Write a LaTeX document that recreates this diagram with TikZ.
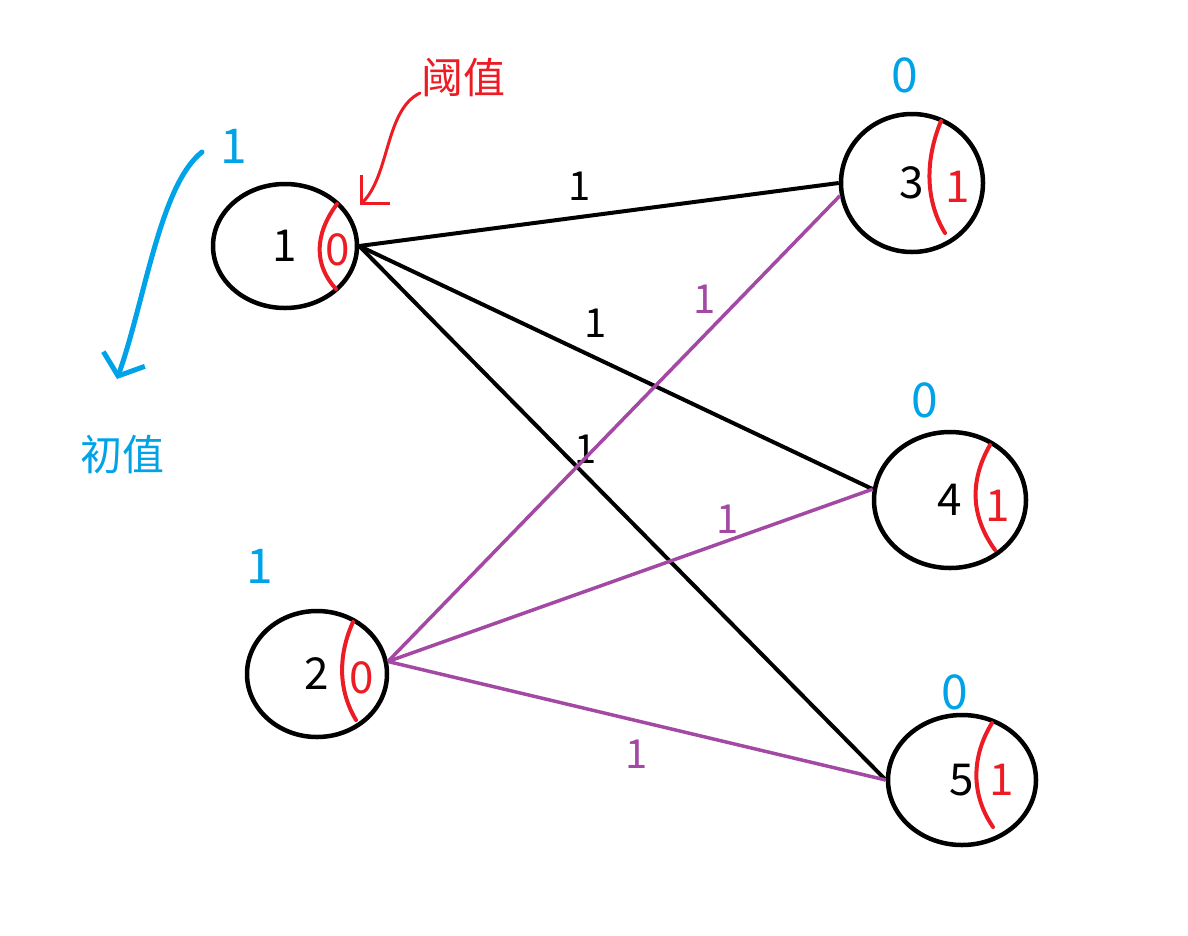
\documentclass[tikz,border=0pt]{standalone}
\usepackage{fontspec}
\setmainfont{Noto Sans CJK SC}
\usetikzlibrary{shapes.geometric,arrows.meta}
\definecolor{inkblue}{RGB}{0,162,232}
\definecolor{inkred}{RGB}{237,28,36}
\definecolor{inkpurple}{RGB}{163,73,164}

\tikzset{
  neuron/.style={ellipse, draw, line width=4.5pt, inner sep=0pt, font=\fontsize{44}{44}\selectfont},
  edge/.style={line width=4pt},
  wire/.style={inkpurple, line width=3.5pt},
  weight/.style={font=\fontsize{40}{40}\selectfont},
  initval/.style={inkblue, font=\fontsize{48}{48}\selectfont},
  threshval/.style={inkred, font=\fontsize{44}{44}\selectfont},
  divider/.style={inkred, line width=4pt, line cap=round},
  note/.style={font=\fontsize{42}{42}\selectfont},
}

\begin{document}
\begin{tikzpicture}[x=1pt, y=-1pt]
\useasboundingbox (0,0) rectangle (1188,935);

% neurons
\node[neuron, minimum width=144pt, minimum height=124pt] (n1) at (285,246) {1};
\node[neuron, minimum width=140pt, minimum height=126pt] (n2) at (317,674) {2};
\node[neuron, minimum width=142pt, minimum height=138pt] (n3) at (912,183) {3};
\node[neuron, minimum width=152pt, minimum height=136pt] (n4) at (950,500) {4};
\node[neuron, minimum width=148pt, minimum height=130pt] (n5) at (962,780) {5};

% threshold dividers
\draw[divider] (337,204) .. controls (314,235) and (314,265) .. (336,289);
\draw[divider] (353,622) .. controls (338,655) and (338,690) .. (356,720);
\draw[divider] (941,121) .. controls (925,160) and (925,200) .. (945,233);
\draw[divider] (990,445) .. controls (970,480) and (970,515) .. (995,550);
\draw[divider] (992,723) .. controls (971,757) and (971,795) .. (993,827);

% thresholds
\node[threshval] (t1) at (338,250) {0};
\node[threshval] (t2) at (362,678) {0};
\node[threshval] (t3) at (958,187) {1};
\node[threshval] (t4) at (998,506) {1};
\node[threshval] (t5) at (1002,780) {1};

% initial values
\node[initval] (v1) at (234,146) {1};
\node[initval] (v2) at (260,566) {1};
\node[initval] (v3) at (905,75) {0};
\node[initval] (v4) at (925,400) {0};
\node[initval] (v5) at (955,692) {0};

% connections
\draw[edge] (n1.east) -- node[weight, pos=0.46, yshift=31pt] {1} (n3.west);
\draw[edge] (n1.east) -- node[weight, pos=0.46, yshift=35pt] {1} (n4.172);
\draw[edge] (n1.east) -- node[weight, pos=0.43, yshift=26pt] {1} (n5.west);
\draw[wire] (n2.10) -- node[weight, inkpurple, pos=0.70, yshift=36pt] {1} (n3.190);
\draw[wire] (n2.10) -- node[weight, inkpurple, pos=0.70, yshift=22pt] {1} (n4.172);
\draw[wire] (n2.10) -- node[weight, inkpurple, pos=0.50, yshift=-33pt] {1} (n5.west);

% notes
\node[note, inkred] (thr) at (463,78) {阈值};
\node[note, inkblue] (ini) at (122,455) {初值};
\coordinate (thrtip) at (360,205);
\coordinate (initip) at (117,379);
\draw[inkred, line width=3pt, line cap=round, -{Straight Barb[length=20pt,width=40pt]}]
  (420,93) .. controls (385,110) and (390,175) .. (thrtip);
\draw[inkblue, line width=5pt, line cap=round, -{Straight Barb[length=18pt,width=44pt]}]
  (202,152) .. controls (160,185) and (145,300) .. (initip);
\end{tikzpicture}
\end{document}
